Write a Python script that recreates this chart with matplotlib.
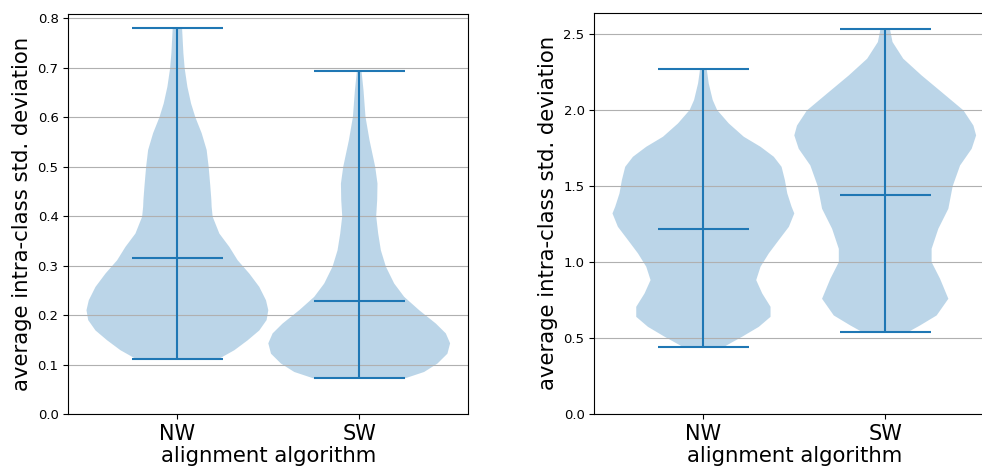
import numpy as np
import matplotlib
matplotlib.use("Agg")
import matplotlib.pyplot as plt

# Violin outlines as (value, half-width) pairs, plus summary stats
algorithms = ["NW", "SW"]

# left panel
nw_left_y = [0.112, 0.129, 0.149, 0.169, 0.190, 0.210, 0.230, 0.257, 0.284,
             0.311, 0.338, 0.365, 0.399, 0.419, 0.433, 0.460, 0.500, 0.534,
             0.568, 0.600, 0.628, 0.662, 0.699, 0.730, 0.780]
nw_left_w = [42, 57, 70.3, 82, 89.3, 91, 88.7, 82, 72,
             60.3, 52, 42, 35.3, 34.3, 34, 33, 31.3, 29.3,
             24.3, 18, 13.7, 10, 7.3, 6, 4.7]
sw_left_y = [0.072, 0.085, 0.102, 0.122, 0.143, 0.163, 0.183, 0.210, 0.237,
             0.264, 0.298, 0.331, 0.365, 0.400, 0.433, 0.466, 0.500, 0.554,
             0.601, 0.655, 0.694]
sw_left_w = [45.7, 65, 78.3, 88.3, 91, 86.7, 76.7, 60, 45,
             35, 26.7, 21.7, 19, 17, 18, 18.3, 16, 10.3,
             6.3, 4.3, 2.3]
left_means = [0.3145, 0.2281]
left_mins = [0.112, 0.072]
left_maxs = [0.780, 0.694]

# right panel
nw_right_y = [0.443, 0.454, 0.509, 0.574, 0.640, 0.706, 0.794, 0.882, 0.970,
              1.058, 1.146, 1.233, 1.321, 1.365, 1.453, 1.541, 1.628, 1.694,
              1.760, 1.826, 1.914, 2.002, 2.068, 2.178, 2.272]
nw_right_w = [21, 23.7, 38.7, 55.3, 67, 67, 58.7, 52.7, 57,
              65.3, 75.3, 85.3, 90.7, 88, 83.7, 81.3, 78, 70.3,
              57, 40.3, 25.3, 13.7, 9.3, 5.3, 3.3]
sw_right_y = [0.540, 0.583, 0.649, 0.759, 0.891, 1.000, 1.088, 1.220, 1.352,
              1.500, 1.637, 1.747, 1.835, 1.900, 2.000, 2.120, 2.230, 2.340,
              2.450, 2.537]
sw_right_w = [23, 34.7, 51.3, 63, 54.7, 46.3, 46.3, 53, 63,
              67.3, 74.7, 86.3, 90.7, 88, 78, 56.3, 36.3, 18,
              7.3, 4.7]
right_means = [1.218, 1.442]
right_mins = [0.443, 0.540]
right_maxs = [2.272, 2.537]


def make_stats(ys, ws, means, mins, maxs):
    stats = []
    for y, w, m, lo, hi in zip(ys, ws, means, mins, maxs):
        stats.append(dict(coords=np.array(y), vals=np.array(w, dtype=float),
                          mean=m, median=m, min=lo, max=hi))
    return stats


fig = plt.figure(figsize=(9.82, 4.71), dpi=100)
ax1 = fig.add_axes([68.3 / 982, 57 / 471, 400 / 982, 400 / 471])
ax2 = fig.add_axes([594.3 / 982, 57 / 471, 400 / 982, 401.3 / 471])

panels = [
    (ax1, make_stats([nw_left_y, sw_left_y], [nw_left_w, sw_left_w],
                     left_means, left_mins, left_maxs), 0.809,
     np.arange(0, 0.81, 0.1)),
    (ax2, make_stats([nw_right_y, sw_right_y], [nw_right_w, sw_right_w],
                     right_means, right_mins, right_maxs), 2.643,
     np.arange(0, 2.51, 0.5)),
]

for ax, vstats, top, yt in panels:
    ax.violin(vstats, positions=[1, 2], widths=1, showmeans=True,
              showextrema=True, showmedians=False)
    ax.set_xlim(0.4, 2.6)
    ax.set_ylim(0, top)
    ax.set_yticks(yt)
    ax.set_xticks([1, 2])
    ax.set_xticklabels(algorithms, fontsize=15)
    ax.tick_params(axis="y", labelsize=9.5)
    ax.yaxis.grid(True)
    ax.set_ylabel("average intra-class std. deviation", fontsize=15.3)
    ax.set_xlabel("alignment algorithm", fontsize=15.3, labelpad=2)

fig.savefig("out.png", dpi=100)
